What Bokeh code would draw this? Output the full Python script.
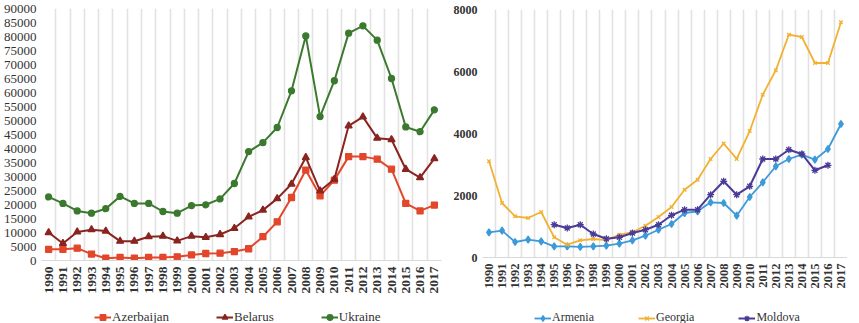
import numpy as np
from bokeh.plotting import figure
from bokeh.models import (Range1d, FixedTicker, Legend, LegendItem, ColumnDataSource)
from bokeh.layouts import row, column
from bokeh.embed import file_html
from bokeh.resources import INLINE

years = list(range(1990, 2018))

azerbaijan = [4000, 4000, 4400, 2300, 800, 1100, 800, 1100, 1100, 1300, 2000, 2500, 2600, 3200,
              4200, 8500, 13800, 22500, 32300, 23100, 28700, 37100, 37100, 36200, 32600, 20400,
              17700, 19800]
belarus = [10000, 6100, 10200, 11000, 10500, 6900, 6900, 8500, 8700, 7000, 8700, 8300, 9300, 11500,
           15600, 18000, 22100, 27300, 36800, 24900, 29000, 48100, 51300, 43700, 43200, 32600,
           29600, 36400]
ukraine = [22700, 20400, 17700, 16900, 18500, 22900, 20400, 20400, 17500, 16900, 19600, 19900,
           22000, 27500, 38900, 42100, 47500, 60600, 80200, 51400, 64200, 81200, 83800, 78700,
           65000, 47700, 46000, 53800]

armenia = [813, 865, 500, 574, 523, 361, 361, 340, 361, 382, 445, 555, 703, 897, 1081, 1435, 1490,
           1780, 1758, 1348, 1952, 2426, 2942, 3177, 3316, 3155, 3500, 4306]
georgia = [3103, 1758, 1329, 1274, 1468, 652, 413, 555, 597, 560, 735, 813, 1026, 1306, 1629, 2187,
           2510, 3177, 3677, 3180, 4080, 5252, 6039, 7187, 7113, 6274, 6274, 7587]
moldova = [None, None, None, None, None, 1058, 952, 1058, 758, 606, 652, 790, 897, 1058, 1361, 1542,
           1542, 2026, 2458, 2026, 2297, 3177, 3177, 3477, 3339, 2813, 2974, None]

left_names = ["Azerbaijan", "Belarus", "Ukraine"]
right_names = ["Armenia", "Georgia", "Moldova"]

SERIF = "Liberation Serif"


def base_fig(fw, fh, ymax, ystep, left, right, top, bottom, lab_size, xlab_size):
    p = figure(frame_width=fw, frame_height=fh, output_backend="svg", toolbar_location=None,
               x_range=Range1d(years[0] - 0.5, years[-1] + 0.5), y_range=Range1d(0, ymax),
               min_border_left=left, min_border_right=right, min_border_top=top,
               min_border_bottom=bottom)
    p.outline_line_color = None
    p.background_fill_color = "white"
    p.border_fill_color = "white"
    p.ygrid.grid_line_color = None
    p.xgrid.ticker = FixedTicker(ticks=[y - 0.5 for y in years] + [years[-1] + 0.5])
    p.xgrid.grid_line_color = "#e2e2e2"
    p.xgrid.grid_line_width = 1.6
    p.xaxis.ticker = FixedTicker(ticks=years)
    p.xaxis.major_label_orientation = np.pi / 2
    p.xaxis.major_tick_line_color = None
    p.xaxis.major_tick_out = 0
    p.xaxis.major_tick_in = 0
    p.xaxis.minor_tick_line_color = None
    p.xaxis.minor_tick_out = 0
    p.xaxis.axis_line_color = "#d9d9d9"
    p.xaxis.major_label_text_font = SERIF
    p.xaxis.major_label_text_font_size = xlab_size
    p.xaxis.major_label_text_font_style = "bold"
    p.xaxis.major_label_text_color = "#333333"
    p.xaxis.major_label_standoff = 6
    p.yaxis.ticker = FixedTicker(ticks=list(range(0, ymax + 1, ystep)))
    p.yaxis.axis_line_color = None
    p.yaxis.major_tick_line_color = None
    p.yaxis.major_tick_out = 0
    p.yaxis.major_tick_in = 0
    p.yaxis.minor_tick_line_color = None
    p.yaxis.minor_tick_out = 0
    p.yaxis.major_label_text_font = SERIF
    p.yaxis.major_label_text_font_size = lab_size
    p.yaxis.major_label_text_color = "#333333"
    p.yaxis.major_label_standoff = 5
    return p


def series_source(vals):
    return ColumnDataSource(dict(x=years, y=np.array(vals, dtype=float)))


def add_series(p, src, style):
    color, marker, msize, lw = style
    p.line("x", "y", source=src, line_color=color, line_width=lw)
    p.scatter("x", "y", source=src, marker=marker, size=msize, fill_color=color,
              line_color=color, line_width=1.3)


def legend_fig(width, names, sources, styles, spacing, font_size, vx):
    # separate strip below each chart; its ranges keep the series out of view,
    # only the legend entries are visible
    lf = figure(width=width, height=25, output_backend="svg", toolbar_location=None,
                x_range=Range1d(0, 1), y_range=Range1d(-2, -1), x_axis_type=None,
                y_axis_type=None, min_border=0)
    lf.outline_line_color = None
    lf.xgrid.visible = False
    lf.ygrid.visible = False
    items = []
    for name, src, (color, marker, msize, lw) in zip(names, sources, styles):
        l = lf.line("x", "y", source=src, line_color=color, line_width=lw)
        s = lf.scatter("x", "y", source=src, marker=marker, size=msize - 1, fill_color=color,
                       line_color=color, line_width=1.3)
        items.append(LegendItem(label=name, renderers=[l, s]))
    leg = Legend(items=items, orientation="horizontal", location=(vx, 0),
                 border_line_color=None, background_fill_alpha=0, padding=1, margin=0,
                 spacing=spacing, glyph_width=17, glyph_height=14, label_standoff=1,
                 label_height=14, label_text_font=SERIF, label_text_font_size=font_size,
                 label_text_color="#333333")
    lf.add_layout(leg, "center")
    return lf


left_styles = [("#e2462b", "square", 6, 2), ("#8a2420", "triangle", 7, 2),
               ("#3b7a2e", "circle", 6, 2)]
right_styles = [("#3d9ad9", "diamond", 7, 1.8), ("#f2b131", "x", 5, 1.8),
                ("#4a3c96", "asterisk", 7, 2)]

left_sources = [series_source(v) for v in (azerbaijan, belarus, ukraine)]
right_sources = [series_source(v) for v in (armenia, georgia, moldova)]

p1 = base_fig(400, 252, 90000, 5000, 37, 4, 8, 40, "13px", "13.5px")
for src, st in zip(left_sources, left_styles):
    add_series(p1, src, st)
l1 = legend_fig(441, left_names, left_sources, left_styles, 47, "13px", 53)

p2 = base_fig(365, 248, 8000, 2000, 37, 0, 9, 43, "12px", "12.5px")
p2.yaxis.major_label_text_font_style = "bold"
for src, st in zip(right_sources, right_styles):
    add_series(p2, src, st)
l2 = legend_fig(402, right_names, right_sources, right_styles, 44, "12px", 52)

layout = row(column(p1, l1), column(p2, l2))
open("out.html", "w").write(file_html(layout, INLINE))
